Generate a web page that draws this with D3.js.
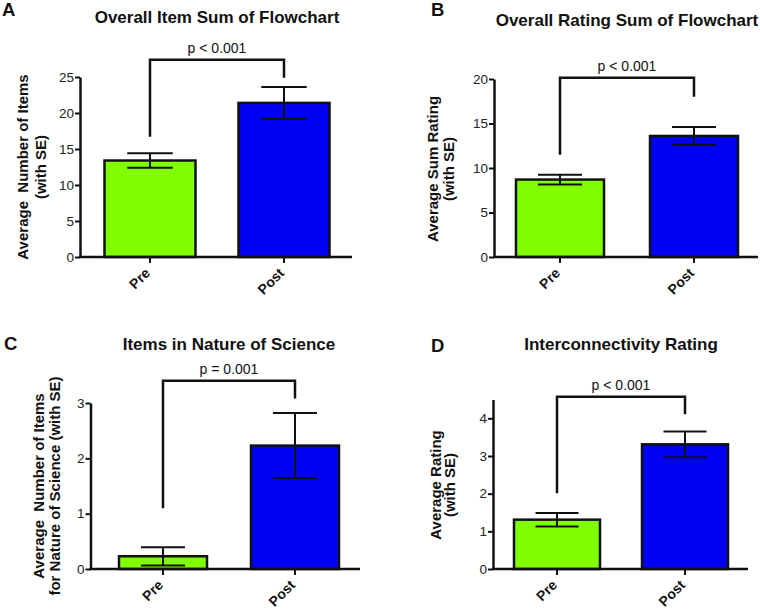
<!DOCTYPE html>
<html><head><meta charset="utf-8">
<script src="https://cdn.jsdelivr.net/npm/d3@7/dist/d3.min.js"></script>
<style>
body{margin:0;background:#fff;}
svg text{font-family:"Liberation Sans",Arial,Helvetica,sans-serif;white-space:pre;}
</style></head>
<body><svg id="c" width="760" height="609"></svg>
<script>
// ---------- data ----------
const categories = ["Pre", "Post"];

const titleA = "Overall Item Sum of Flowchart";
const meansA = [13.4, 21.4];
const seA = [1.0, 2.2];
const ticksA = [0, 5, 10, 15, 20, 25];
const pLabelA = "p < 0.001";
const bracketA = [27.4, 16.7, 24.9];   // top, Pre leg end, Post leg end
const yLabelA = ["Average  Number of Items", "(with SE)"];

const titleB = "Overall Rating Sum of Flowchart";
const meansB = [8.7, 13.6];
const seB = [0.55, 1.0];
const ticksB = [0, 5, 10, 15, 20];
const pLabelB = "p < 0.001";
const bracketB = [20.15, 11.5, 18.0];
const yLabelB = ["Average Sum Rating", "(with SE)"];

const titleC = "Items in Nature of Science";
const meansC = [0.23, 2.23];
const seC = [0.165, 0.59];
const ticksC = [0, 1, 2, 3];
const pLabelC = "p = 0.001";
const bracketC = [3.40, 1.10, 3.08];
const yLabelC = ["Average  Number of Items", "for Nature of Science (with SE)"];

const titleD = "Interconnectivity Rating";
const meansD = [1.31, 3.31];
const seD = [0.18, 0.34];
const ticksD = [0, 1, 2, 3, 4];
const pLabelD = "p < 0.001";
const bracketD = [4.57, 2.01, 4.11];
const yLabelD = ["Average Rating", "(with SE)"];

const barColors = ["#80ff00", "#0000f5"];

// ---------- layout ----------
const panels = [
  {letter:"A", title:titleA, means:meansA, se:seA, ticks:ticksA, yMax:25, p:pLabelA, br:bracketA, yl:yLabelA,
   ax:80, y0:257, yTop:77, xR:352, cPre:150, cPost:284, bw:91,
   letterPos:[2,16], titleY:23, yl1:28, yl2:46, ylC:167},
  {letter:"B", title:titleB, means:meansB, se:seB, ticks:ticksB, yMax:20, p:pLabelB, br:bracketB, yl:yLabelB,
   ax:494, y0:257, yTop:79, xR:758, cPre:560, cPost:694, bw:88,
   letterPos:[431,16], titleY:26, yl1:438, yl2:454, ylC:169},
  {letter:"C", title:titleC, means:meansC, se:seC, ticks:ticksC, yMax:3, p:pLabelC, br:bracketC, yl:yLabelC,
   ax:90.5, y0:569, yTop:403, xR:360, cPre:163, cPost:295, bw:88,
   letterPos:[4,350], titleY:349.5, yl1:44, yl2:60, ylC:486},
  {letter:"D", title:titleD, means:meansD, se:seD, ticks:ticksD, yMax:4.5, p:pLabelD, br:bracketD, yl:yLabelD,
   ax:493, y0:569, yTop:399.5, xR:748, cPre:557, cPost:685, bw:86,
   letterPos:[431,352], titleY:350, yl1:441, yl2:455, ylC:485}
];

const svg = d3.select("#c");

panels.forEach(P => {
  const g = svg.append("g");
  const y = d3.scaleLinear().domain([0, P.yMax]).range([P.y0, P.yTop]);
  const step = P.cPost - P.cPre;
  const pi = 1 - P.bw / step;
  const x = d3.scaleBand().domain(categories)
    .range([P.cPre - P.bw/2 - step/2, P.cPost + P.bw/2 + step/2])
    .paddingInner(pi).paddingOuter(0.5);
  const cx = c => x(c) + x.bandwidth()/2;

  // bars
  g.selectAll("rect.bar").data(categories).join("rect")
    .attr("x", d => x(d)).attr("width", x.bandwidth())
    .attr("y", (d,i) => y(P.means[i])).attr("height", (d,i) => P.y0 - y(P.means[i]))
    .attr("fill", (d,i) => barColors[i]).attr("stroke", "#111").attr("stroke-width", 2.5);

  // error bars
  const capW = x.bandwidth() / 2;
  categories.forEach((c,i) => {
    const lo = y(P.means[i] - P.se[i]), hi = y(P.means[i] + P.se[i]);
    g.append("line").attr("x1", cx(c)).attr("x2", cx(c)).attr("y1", lo).attr("y2", hi)
      .attr("stroke", "#111").attr("stroke-width", 2);
    [lo, hi].forEach(v => g.append("line").attr("x1", cx(c)-capW/2).attr("x2", cx(c)+capW/2)
      .attr("y1", v).attr("y2", v).attr("stroke", "#111").attr("stroke-width", 2));
  });

  // y axis
  const yAxis = d3.axisLeft(y).tickValues(P.ticks).tickFormat(d3.format("d"))
    .tickSize(5).tickSizeOuter(0).tickPadding(1);
  const ya = g.append("g").attr("transform", `translate(${P.ax},0)`).call(yAxis);
  ya.select(".domain").attr("stroke", "#111").attr("stroke-width", 2.5);
  ya.selectAll(".tick line").attr("stroke", "#111").attr("stroke-width", 2);
  ya.selectAll(".tick text").attr("font-size", 13.5).attr("fill", "#222")
    .style("font-family", "'Liberation Sans',Arial,sans-serif");

  // x axis
  const xa = g.append("g").attr("transform", `translate(0,${P.y0})`)
    .call(d3.axisBottom(x).tickSize(6).tickSizeOuter(0));
  xa.select(".domain").remove();
  xa.append("line").attr("x1", P.ax - 1).attr("x2", P.xR).attr("y1", 0).attr("y2", 0)
    .attr("stroke", "#111").attr("stroke-width", 2.5);
  xa.selectAll(".tick line").attr("stroke", "#111").attr("stroke-width", 2);
  xa.selectAll(".tick text")
    .attr("font-size", 14).attr("font-weight", "bold").attr("fill", "#111")
    .style("font-family", "'Liberation Sans',Arial,sans-serif")
    .attr("text-anchor", "end").attr("dy", null).attr("y", null)
    .attr("transform", "translate(1,17) rotate(-45)");

  // significance bracket
  const [bt, bl, bp] = P.br;
  g.append("path")
    .attr("d", `M${cx("Pre")},${y(bl)}V${y(bt)}H${cx("Post")}V${y(bp)}`)
    .attr("fill", "none").attr("stroke", "#111").attr("stroke-width", 2.5);
  g.append("text").attr("x", (cx("Pre")+cx("Post"))/2).attr("y", y(bt) - 7)
    .attr("text-anchor", "middle").attr("font-size", 14).attr("fill", "#111").text(P.p);

  // title
  g.append("text").attr("x", (cx("Pre")+cx("Post"))/2).attr("y", P.titleY)
    .attr("text-anchor", "middle").attr("font-size", 17).attr("font-weight", "bold").attr("fill", "#111")
    .text(P.title);

  // panel letter
  g.append("text").attr("x", P.letterPos[0]).attr("y", P.letterPos[1])
    .attr("font-size", 18.5).attr("font-weight", "bold").attr("fill", "#111").text(P.letter);

  // y label
  [P.yl1, P.yl2].forEach((xx, k) => {
    g.append("text").attr("transform", `translate(${xx},${P.ylC}) rotate(-90)`)
      .attr("text-anchor", "middle").attr("font-size", 15).attr("font-weight", "bold").attr("fill", "#111")
      .text(P.yl[k]);
  });
});
</script></body></html>
